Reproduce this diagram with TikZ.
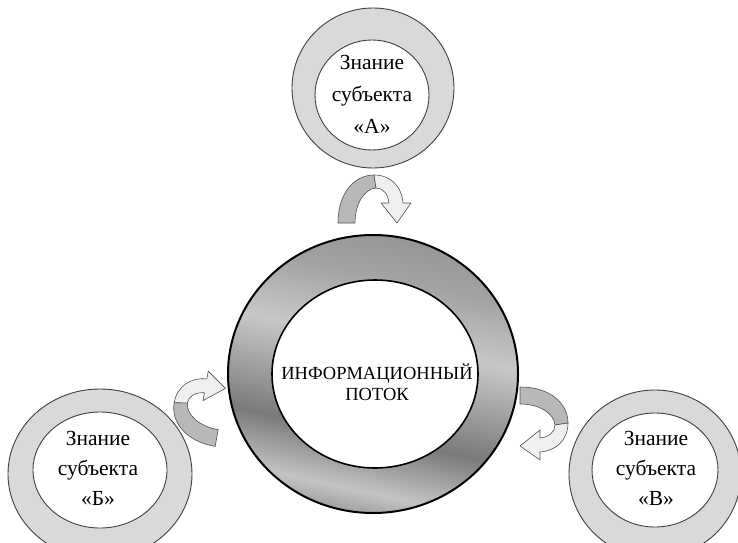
\documentclass[tikz,border=0pt]{standalone}
\usepackage{fontspec}
\setmainfont{Liberation Serif}
\newfontfamily\rusfont{Liberation Serif}
\usetikzlibrary{shapes.geometric}
\definecolor{ringgray}{HTML}{D9D9D9}
\definecolor{arrdark}{HTML}{B8B8B8}
\definecolor{arrlight}{HTML}{EFEFEF}
\definecolor{arrline}{HTML}{505050}
\definecolor{shA}{HTML}{A0A0A0}
\definecolor{shB}{HTML}{C4C4C4}
\definecolor{shC}{HTML}{7A7A7A}
\definecolor{shD}{HTML}{C8C8C8}
\definecolor{shE}{HTML}{A4A4A4}
\definecolor{shF}{HTML}{969696}
\pgfdeclareverticalshading{ringshade}{100bp}{color(0bp)=(shA); color(25bp)=(shA); color(29bp)=(shB); color(39bp)=(shC); color(56bp)=(shD); color(67bp)=(shE); color(75bp)=(shF); color(100bp)=(shF)}
\begin{document}
\begin{tikzpicture}[x=1pt,y=1pt,
  ring/.style={ellipse, draw=black!75, line width=0.9pt, fill=ringgray, inner sep=0pt},
  hole/.style={ellipse, draw=black!75, line width=0.9pt, fill=white, inner sep=0pt},
  lbl/.style={align=center, font=\rusfont\fontsize{21.5}{30}\selectfont, inner sep=0pt},
  uturn/.pic={
    \draw[arrline, line width=0.6pt, fill=arrdark, line join=round]
      (-37,-23) .. controls (-37,8) and (-20,25) .. (-1,25) -- (1,12)
      .. controls (-11,11) and (-20,-4) .. (-20,-23) -- cycle;
    \draw[arrline, line width=0.6pt, fill=arrlight, line join=round]
      (-1,25) .. controls (16,25) and (27,13) .. (28,-3) -- (36,-3) -- (22,-23)
      -- (6,-3) -- (14,-3) .. controls (13,6) and (8,12) .. (1,12) -- cycle;
  }
]
\useasboundingbox (0,0) rectangle (738,542);
% central ring
\node[ellipse, draw=black, line width=2pt, shade, shading=ringshade, shading angle=-12,
      minimum width=290pt, minimum height=278pt, inner sep=0pt] (flow) at (373,168) {};
\node[ellipse, draw=black, line width=1.6pt, fill=white,
      minimum width=206pt, minimum height=188pt, inner sep=0pt] (flowin) at (375,168) {};
\node[align=center, font=\rusfont\fontsize{18.5}{21}\selectfont, inner sep=0pt] (flowtxt) at (377,160) {ИНФОРМАЦИОННЫЙ\\ПОТОК};
% subject A
\node[ring, minimum width=162pt, minimum height=160pt] (A) at (373,454) {};
\node[hole, minimum width=114pt, minimum height=110pt] (Ain) at (372,447) {};
\node[lbl, font=\rusfont\fontsize{21.5}{32}\selectfont] (Atxt) at (372,448) {Знание\\субъекта\\«А»};
% subject B
\node[ring, minimum width=184pt, minimum height=170pt] (B) at (100,68) {};
\node[hole, minimum width=134pt, minimum height=116pt] (Bin) at (100,72) {};
\node[lbl] (Btxt) at (98,74) {Знание\\субъекта\\«Б»};
% subject V
\node[ring, minimum width=172pt, minimum height=168pt] (V) at (655,68) {};
\node[hole, minimum width=126pt, minimum height=114pt] (Vin) at (655,72) {};
\node[lbl] (Vtxt) at (656,74) {Знание\\субъекта\\«В»};
% arrows
\pic at (375,342) {uturn};
\pic[rotate=80] at (199,136) {uturn};
\pic[rotate=-90] at (543,118) {uturn};
\end{tikzpicture}
\end{document}
